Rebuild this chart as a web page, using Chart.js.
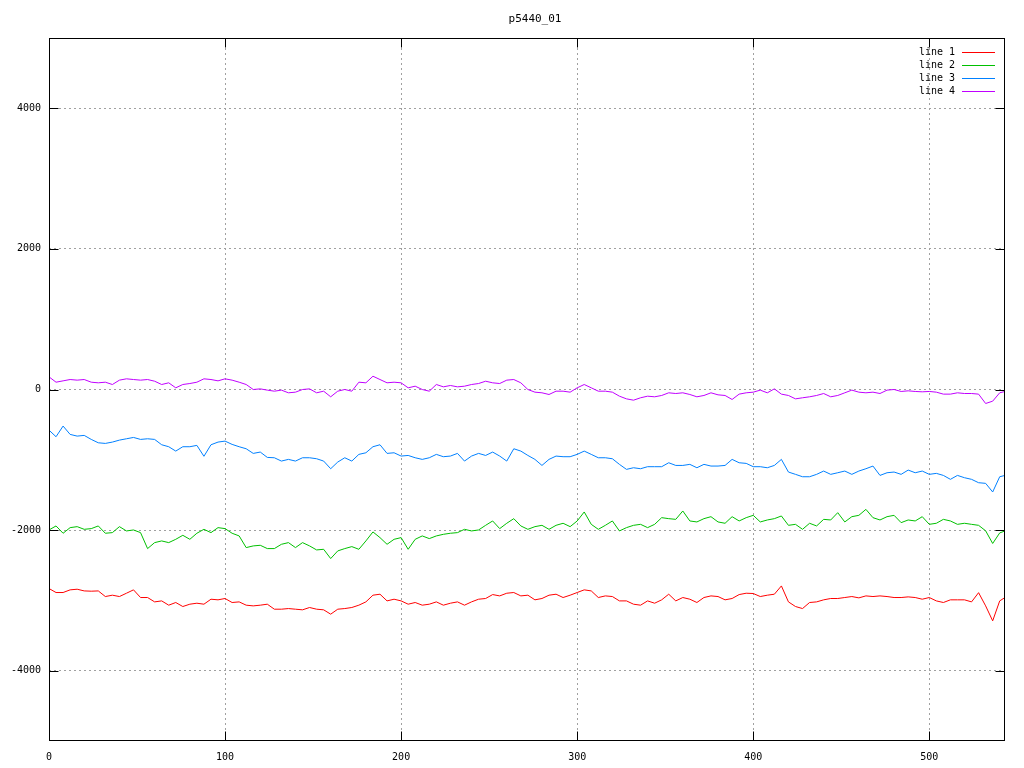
<!DOCTYPE html>
<html lang="en">
<head>
<meta charset="UTF-8">
<title>p5440_01</title>
<script src="https://cdn.jsdelivr.net/npm/chart.js"></script>
<style>
    html, body { margin: 0; padding: 0; background: #fff; }
    #plotBox { width: 1024px; height: 768px; }
</style>
</head>
<body>
<div id="plotBox">
    <canvas id="plot" width="1024" height="768"></canvas>
</div>
<script>
    var titleText = 'p5440_01';
    var seriesNames = ['line 1', 'line 2', 'line 3', 'line 4'];
    var seriesColors = ['#ff0000', '#00c000', '#0080ff', '#c000ff'];
    var xTicks = [0, 100, 200, 300, 400, 500];
    var yTicks = [-4000, -2000, 0, 2000, 4000];

    // sample positions along x
    var xs = [0, 4, 8, 12, 16, 20, 24, 28, 32, 36,
        40, 44, 48, 52, 56, 60, 64, 68, 72, 76,
        80, 84, 88, 92, 96, 100, 104, 108, 112, 116,
        120, 124, 128, 132, 136, 140, 144, 148, 152, 156,
        160, 164, 168, 172, 176, 180, 184, 188, 192, 196,
        200, 204, 208, 212, 216, 220, 224, 228, 232, 236,
        240, 244, 248, 252, 256, 260, 264, 268, 272, 276,
        280, 284, 288, 292, 296, 300, 304, 308, 312, 316,
        320, 324, 328, 332, 336, 340, 344, 348, 352, 356,
        360, 364, 368, 372, 376, 380, 384, 388, 392, 396,
        400, 404, 408, 412, 416, 420, 424, 428, 432, 436,
        440, 444, 448, 452, 456, 460, 464, 468, 472, 476,
        480, 484, 488, 492, 496, 500, 504, 508, 512, 516,
        520, 524, 528, 532, 536, 540, 543];

    var line1 = [-2831, -2888, -2888, -2850, -2841, -2865, -2869, -2865, -2945, -2926,
        -2945, -2898, -2850, -2959, -2959, -3021, -3007, -3068, -3030, -3087,
        -3054, -3040, -3054, -2983, -2992, -2973, -3030, -3021, -3068, -3078,
        -3068, -3054, -3125, -3125, -3116, -3125, -3134, -3101, -3125, -3134,
        -3196, -3125, -3116, -3101, -3068, -3021, -2926, -2912, -3007, -2983,
        -3007, -3054, -3030, -3068, -3054, -3021, -3068, -3040, -3021, -3068,
        -3021, -2983, -2973, -2917, -2936, -2898, -2888, -2936, -2926, -2992,
        -2973, -2926, -2912, -2959, -2926, -2888, -2850, -2865, -2959, -2936,
        -2945, -3007, -3007, -3054, -3068, -3007, -3040, -2992, -2912, -3007,
        -2959, -2983, -3030, -2959, -2936, -2945, -2992, -2973, -2917, -2898,
        -2902, -2945, -2926, -2912, -2794, -3021, -3087, -3116, -3030, -3021,
        -2992, -2973, -2973, -2959, -2945, -2964, -2936, -2945, -2936, -2945,
        -2959, -2959, -2950, -2959, -2983, -2959, -3007, -3030, -2992, -2992,
        -2992, -3021, -2890, -3078, -3291, -3007, -2959];

    var line2 = [-1998, -1941, -2045, -1965, -1951, -1989, -1979, -1941, -2045, -2036,
        -1951, -2012, -1998, -2036, -2263, -2178, -2154, -2178, -2131, -2074,
        -2131, -2045, -1989, -2036, -1965, -1979, -2045, -2083, -2249, -2225,
        -2216, -2263, -2263, -2202, -2178, -2249, -2178, -2225, -2282, -2273,
        -2405, -2296, -2263, -2235, -2273, -2154, -2026, -2107, -2202, -2131,
        -2107, -2273, -2131, -2083, -2121, -2083, -2060, -2045, -2036, -1989,
        -2012, -1998, -1932, -1870, -1979, -1903, -1837, -1941, -1989, -1951,
        -1932, -1989, -1932, -1903, -1951, -1870, -1742, -1918, -1989, -1932,
        -1870, -2012, -1965, -1932, -1918, -1965, -1918, -1823, -1837, -1847,
        -1728, -1870, -1884, -1837, -1809, -1884, -1903, -1809, -1870, -1823,
        -1790, -1884, -1856, -1837, -1799, -1932, -1918, -1989, -1903, -1941,
        -1847, -1856, -1752, -1884, -1809, -1790, -1705, -1823, -1856, -1809,
        -1790, -1894, -1856, -1870, -1809, -1918, -1903, -1847, -1870, -1918,
        -1903, -1918, -1932, -2010, -2190, -2040, -2012];

    var line3 = [-578, -672, -520, -639, -663, -653, -710, -758, -767, -748,
        -720, -701, -682, -710, -701, -710, -786, -814, -876, -814,
        -814, -795, -950, -786, -748, -734, -781, -814, -843, -909,
        -890, -966, -971, -1018, -994, -1018, -971, -971, -985, -1018,
        -1127, -1032, -971, -1018, -923, -900, -814, -786, -909, -900,
        -947, -938, -971, -994, -971, -923, -956, -947, -909, -1018,
        -947, -909, -938, -890, -947, -1018, -843, -876, -938, -994,
        -1080, -994, -947, -956, -956, -923, -876, -923, -971, -971,
        -985, -1065, -1136, -1113, -1127, -1098, -1098, -1098, -1042, -1080,
        -1080, -1065, -1113, -1065, -1089, -1089, -1080, -994, -1042, -1051,
        -1098, -1098, -1113, -1080, -994, -1174, -1207, -1241, -1241, -1207,
        -1160, -1207, -1184, -1160, -1207, -1160, -1127, -1089, -1222, -1184,
        -1174, -1207, -1146, -1184, -1160, -1207, -1193, -1222, -1278, -1222,
        -1255, -1278, -1326, -1335, -1458, -1241, -1222];

    var line4 = [180, 104, 123, 142, 133, 142, 104, 95, 104, 71,
        133, 152, 142, 133, 142, 118, 71, 95, 24, 71,
        85, 104, 152, 142, 123, 152, 133, 104, 71, 0,
        9, -9, -24, -9, -47, -38, 0, 9, -47, -24,
        -104, -24, 0, -24, 104, 95, 189, 142, 95, 104,
        95, 24, 47, 0, -24, 71, 38, 57, 38, 47,
        71, 85, 118, 95, 85, 133, 142, 95, 0, -38,
        -47, -71, -24, -24, -38, 24, 71, 24, -24, -24,
        -38, -95, -133, -152, -118, -95, -104, -85, -47, -57,
        -47, -71, -104, -85, -47, -76, -85, -142, -66, -47,
        -38, -9, -47, 9, -66, -85, -133, -118, -104, -85,
        -57, -104, -85, -47, -9, -38, -47, -38, -57, -9,
        0, -28, -19, -28, -33, -28, -38, -66, -66, -47,
        -57, -57, -66, -199, -166, -47, -28];

    var allSeries = [line1, line2, line3, line4];
    var monoFont = 'DejaVu Sans Mono';

    function toPoints(values) {
        return xs.map(function (x, i) { return { x: x, y: values[i] }; });
    }

    // gnuplot style frame: full border, inward ticks, key and title
    var gnuplotFrame = {
        id: 'gnuplotFrame',
        afterDraw: function (chart) {
            var ctx = chart.ctx;
            var a = chart.chartArea;
            var sx = chart.scales.x, sy = chart.scales.y;
            var L = Math.round(a.left) + 0.5, R = Math.round(a.right) - 0.5;
            var T = Math.round(a.top) + 0.5, B = Math.round(a.bottom) - 0.5;
            ctx.save();
            ctx.strokeStyle = '#000';
            ctx.lineWidth = 1;
            ctx.setLineDash([]);
            ctx.strokeRect(L, T, R - L, B - T);

            ctx.beginPath();
            xTicks.forEach(function (v) {
                var px = Math.round(sx.getPixelForValue(v)) + 0.5;
                ctx.moveTo(px, B); ctx.lineTo(px, B - 9);
                ctx.moveTo(px, T); ctx.lineTo(px, T + 9);
            });
            yTicks.forEach(function (v) {
                var py = Math.round(sy.getPixelForValue(v)) + 0.5;
                ctx.moveTo(L, py); ctx.lineTo(L + 9, py);
                ctx.moveTo(R, py); ctx.lineTo(R - 9, py);
            });
            ctx.stroke();

            // key
            ctx.font = '10px "' + monoFont + '"';
            ctx.textAlign = 'right';
            ctx.textBaseline = 'middle';
            chart.data.datasets.forEach(function (ds, i) {
                var y = Math.round(a.top + 14 + i * 13) + 0.5;
                ctx.fillStyle = '#000';
                ctx.fillText(ds.label, a.right - 50, y);
                ctx.strokeStyle = ds.borderColor;
                ctx.beginPath();
                ctx.moveTo(a.right - 43, y);
                ctx.lineTo(a.right - 10, y);
                ctx.stroke();
            });

            // title
            ctx.font = '11px "' + monoFont + '"';
            ctx.textAlign = 'center';
            ctx.fillStyle = '#000';
            ctx.fillText(titleText, 535, 19);
            ctx.restore();
        }
    };

    var ctx = document.getElementById('plot').getContext('2d');
    var plot = new Chart(ctx, {
        type: 'line',
        data: {
            datasets: allSeries.map(function (values, i) {
                return {
                    label: seriesNames[i],
                    data: toPoints(values),
                    borderColor: seriesColors[i],
                    backgroundColor: seriesColors[i],
                    borderWidth: 1,
                    pointRadius: 0,
                    tension: 0,
                    fill: false
                };
            })
        },
        options: {
            responsive: false,
            animation: false,
            devicePixelRatio: 1,
            layout: { padding: { top: 38, right: 19, left: 0, bottom: 0 } },
            plugins: {
                legend: { display: false },
                title: { display: false },
                tooltip: { enabled: false }
            },
            scales: {
                x: {
                    type: 'linear',
                    min: 0,
                    max: 543,
                    afterBuildTicks: function (s) { s.ticks = xTicks.map(function (v) { return { value: v }; }); },
                    afterFit: function (s) { s.height = 27; },
                    grid: { color: '#a0a0a0', lineWidth: 1, drawTicks: false },
                    border: { display: false, dash: [2, 3] },
                    ticks: {
                        color: '#000',
                        padding: 10,
                        maxRotation: 0,
                        autoSkip: false,
                        font: { family: monoFont, size: 10 }
                    }
                },
                y: {
                    type: 'linear',
                    min: -5000,
                    max: 5000,
                    afterBuildTicks: function (s) { s.ticks = yTicks.map(function (v) { return { value: v }; }); },
                    afterFit: function (s) { s.width = 49; },
                    grid: { color: '#a0a0a0', lineWidth: 1, drawTicks: false },
                    border: { display: false, dash: [2, 3] },
                    ticks: {
                        color: '#000',
                        padding: 8,
                        autoSkip: false,
                        font: { family: monoFont, size: 10 },
                        callback: function (value) { return String(value); }
                    }
                }
            }
        },
        plugins: [gnuplotFrame]
    });
</script>
</body>
</html>
